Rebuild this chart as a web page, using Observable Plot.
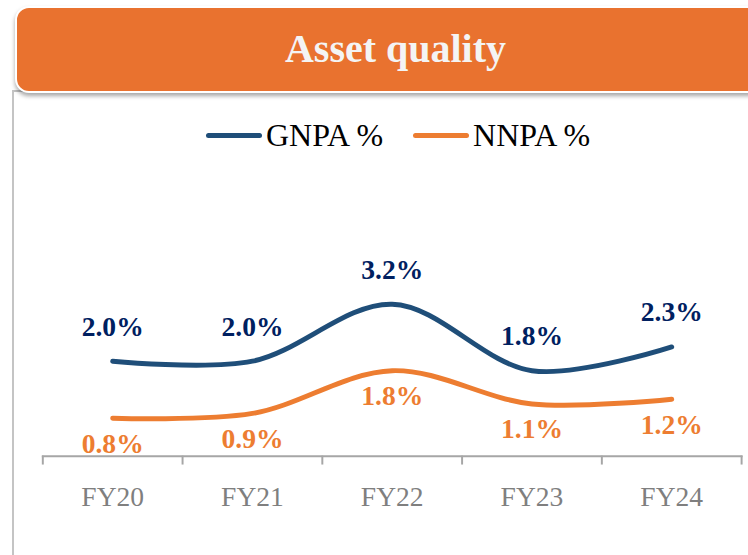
<!DOCTYPE html>
<html>
<head>
<meta charset="utf-8">
<script src="https://cdn.jsdelivr.net/npm/d3@7"></script>
<script src="https://cdn.jsdelivr.net/npm/@observablehq/plot@0.6"></script>
<style>
  html, body { margin: 0; padding: 0; background: #fff; overflow: hidden; }
  #wrap { position: relative; width: 748px; height: 555px; overflow: hidden; }
  #box { position: absolute; left: 12px; top: 90px; width: 800px; height: 500px;
         border-left: 2px solid #c4c4c4; border-top: 2px solid #c4c4c4; }
  #banner { position: absolute; left: 15px; top: 6px; width: 757px; height: 83px;
            background: #E9722F; border: 2px solid #fff; border-radius: 14px;
            box-shadow: 0 3px 4px rgba(0,0,0,0.35); }
  #title { position: absolute; left: 15px; width: 761px; top: 29px; text-align: center;
           font: bold 40px "Liberation Serif", serif; line-height: 40px; color: #f4f4f4; }
  #legend { position: absolute; left: 206px; top: 119px; height: 32px; display: flex;
            align-items: center; font: 32px "Liberation Serif", serif; line-height: 32px; color: #000; }
  .sw { display: inline-block; width: 56px; height: 5px; border-radius: 3px; margin-right: 4px; }
  .item { display: flex; align-items: center; }
  #chart { position: absolute; left: 0; top: 0; }
</style>
</head>
<body>
<div id="wrap">
  <div id="box"></div>
  <div id="chart"></div>
  <div id="banner"></div>
  <div id="title">Asset quality</div>
  <div id="legend"></div>
</div>
<script>
const years = ["FY20", "FY21", "FY22", "FY23", "FY24"];
const gnpa = [2.0, 2.0, 3.2, 1.8, 2.3];
const nnpa = [0.8, 0.9, 1.8, 1.1, 1.2];
const seriesNames = ["GNPA %", "NNPA %"];
const lineColors = ["#1F4E79", "#ED7D31"];
const labelColors = ["#002060", "#ED7D31"];

const gData = gnpa.map((v, i) => ({i, value: v}));
const nData = nnpa.map((v, i) => ({i, value: v}));
const fmt = d => d.value.toFixed(1) + "%";
const serif = "Liberation Serif";

// legend
const legend = document.getElementById("legend");
seriesNames.forEach((name, k) => {
  const item = document.createElement("div");
  item.className = "item";
  if (k > 0) item.style.marginLeft = "30px";
  const sw = document.createElement("span");
  sw.className = "sw";
  sw.style.background = lineColors[k];
  item.appendChild(sw);
  const t = document.createElement("span");
  t.textContent = name;
  item.appendChild(t);
  legend.appendChild(item);
});

const chart = Plot.plot({
  width: 760,
  height: 555,
  marginLeft: 43,
  marginRight: 7,
  marginTop: 270,
  marginBottom: 92,
  x: {type: "linear", domain: [-0.5, years.length - 0.5], label: null},
  y: {domain: [0, 4], axis: null, label: null},
  style: "background: transparent; overflow: visible;",
  marks: [
    Plot.frame({anchor: "bottom", stroke: "#a6a6a6", strokeWidth: 2}),
    Plot.axisX({ticks: d3.range(years.length + 1).map(i => i - 0.5), tickFormat: () => "",
                tickSize: 9, stroke: "#a6a6a6", strokeWidth: 2, label: null}),
    Plot.axisX({ticks: d3.range(years.length), tickFormat: i => years[i], tickSize: 0,
                tickPadding: 31, fontSize: 28, fill: "#7f7f7f", fontFamily: serif, label: null}),
    Plot.line(gData, {x: "i", y: "value", stroke: lineColors[0], strokeWidth: 5,
                      curve: "catmull-rom", strokeLinecap: "round"}),
    Plot.line(nData, {x: "i", y: "value", stroke: lineColors[1], strokeWidth: 5,
                      curve: "catmull-rom", strokeLinecap: "round"}),
    Plot.text(gData, {x: "i", y: "value", text: fmt, dy: -35, fontSize: 28,
                      fontWeight: "bold", fill: labelColors[0], fontFamily: serif}),
    Plot.text(nData, {x: "i", y: "value", text: fmt, dy: 26, fontSize: 28,
                      fontWeight: "bold", fill: labelColors[1], fontFamily: serif})
  ]
});
document.getElementById("chart").appendChild(chart);
</script>
</body>
</html>
